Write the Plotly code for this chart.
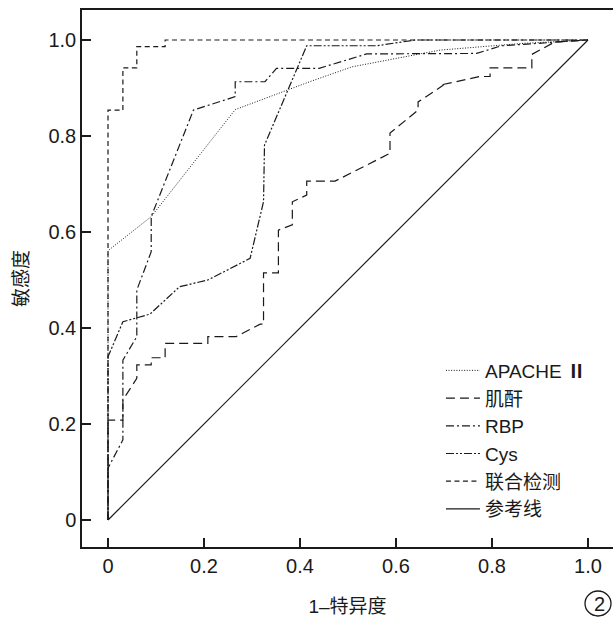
import plotly.graph_objects as go

# ---- data ----
apache_x = [0, 0, 0.09, 0.265, 0.42, 0.508, 0.692, 0.865, 1.0]
apache_y = [0, 0.561, 0.632, 0.855, 0.913, 0.944, 0.979, 0.993, 1.0]

creat_x = [0, 0, 0.031, 0.031, 0.06, 0.06, 0.09, 0.09, 0.119, 0.119, 0.208, 0.208,
           0.267, 0.317, 0.324, 0.324, 0.355, 0.355, 0.384, 0.384, 0.414, 0.414,
           0.473, 0.5875, 0.5875, 0.646, 0.646, 0.699, 0.692, 0.775, 0.796, 0.796,
           0.883, 0.883, 0.931, 1.0]
creat_y = [0, 0.208, 0.208, 0.25, 0.295, 0.323, 0.323, 0.338, 0.338, 0.368, 0.368, 0.382,
           0.382, 0.408, 0.408, 0.515, 0.515, 0.604, 0.615, 0.663, 0.677, 0.706,
           0.706, 0.764, 0.806, 0.854, 0.871, 0.906, 0.906, 0.924, 0.924, 0.942,
           0.942, 0.970, 0.996, 1.0]

rbp_x = [0, 0, 0.031, 0.031, 0.06, 0.06, 0.09, 0.09, 0.178, 0.265, 0.265, 0.327,
         0.351, 0.44, 0.539, 0.768, 0.82, 1.0]
rbp_y = [0, 0.108, 0.167, 0.333, 0.382, 0.479, 0.559, 0.632, 0.854, 0.882, 0.913, 0.913,
         0.941, 0.941, 0.971, 0.972, 0.988, 1.0]

cys_x = [0, 0, 0.031, 0.0875, 0.149, 0.208, 0.296, 0.324, 0.326, 0.414, 0.56, 0.64, 1.0]
cys_y = [0, 0.34, 0.413, 0.429, 0.486, 0.5, 0.545, 0.663, 0.781, 0.988, 0.988, 1.0, 1.0]

comb_x = [0, 0, 0.031, 0.031, 0.06, 0.06, 0.119, 0.119, 1.0]
comb_y = [0, 0.854, 0.854, 0.942, 0.942, 0.986, 0.986, 1.0, 1.0]

ref_x = [0, 1.0]
ref_y = [0, 1.0]

tick_vals = [0, 0.2, 0.4, 0.6, 0.8, 1.0]
tick_text = ["0", "0.2", "0.4", "0.6", "0.8", "1.0"]

names = ["APACHE <b>Ⅱ</b>", "肌酐", "RBP", "Cys", "联合检测", "参考线"]

# ---- figure ----
FONT = "Liberation Sans, Arial, Noto Sans CJK SC, sans-serif"
INK = "#1a1a1a"

series = [
    (apache_x, apache_y, "1px,1.6px", 1.0),
    (creat_x, creat_y, "9px,5px", 1.2),
    (rbp_x, rbp_y, "8px,3px,2px,3px", 1.2),
    (cys_x, cys_y, "8px,2px,2px,2px,2px,2px", 1.2),
    (comb_x, comb_y, "5px,3.5px", 1.2),
    (ref_x, ref_y, "solid", 1.2),
]

fig = go.Figure()
for i, (xs, ys, dash, w) in enumerate(series):
    fig.add_trace(go.Scatter(
        x=xs, y=ys, mode="lines", name=names[i],
        line=dict(color=INK, width=w, dash=dash),
        hoverinfo="skip",
    ))

W, H = 613, 617
L, T, R, B = 82, 10, 0, 70

fig.update_layout(
    width=W, height=H,
    margin=dict(l=L, r=R, t=T, b=B, pad=0, autoexpand=False),
    paper_bgcolor="white", plot_bgcolor="white",
    font=dict(family=FONT, size=20, color=INK),
    showlegend=True,
    legend=dict(
        x=0.676, y=0.364, xanchor="left", yanchor="top",
        bgcolor="rgba(0,0,0,0)", borderwidth=0,
        font=dict(family=FONT, size=19, color=INK),
        itemwidth=34,
    ),
    xaxis=dict(
        range=[-0.0542, 1.0521], showgrid=False, zeroline=False,
        showline=True, linecolor=INK, linewidth=1.5, mirror=True,
        ticks="inside", ticklen=9, tickwidth=1.5, tickcolor=INK,
        tickvals=tick_vals, ticktext=tick_text,
        tickfont=dict(family=FONT, size=20, color=INK),
        title=dict(text="1–特异度", font=dict(family=FONT, size=19, color=INK), standoff=24),
        automargin=False,
    ),
    yaxis=dict(
        range=[-0.05625, 1.0625], showgrid=False, zeroline=False,
        showline=True, linecolor=INK, linewidth=1.5, mirror=False,
        ticks="inside", ticklen=9, tickwidth=1.5, tickcolor=INK,
        tickvals=tick_vals, ticktext=tick_text,
        tickfont=dict(family=FONT, size=20, color=INK),
        title=dict(text="敏感度", font=dict(family=FONT, size=19, color=INK), standoff=15),
        automargin=False,
    ),
)

# circled panel number at lower right
pw, ph = W - L - R, H - T - B
def px_x(p):
    return (p - L) / pw
def px_y(p):
    return (H - B - p) / ph

fig.add_shape(type="circle", xref="paper", yref="paper",
              x0=px_x(585), x1=px_x(611), y0=px_y(616), y1=px_y(591),
              line=dict(color=INK, width=1.3))
fig.add_annotation(text="2", xref="paper", yref="paper",
                   x=px_x(599), y=px_y(604), xanchor="center", yanchor="middle",
                   showarrow=False,
                   font=dict(family=FONT, size=20, color=INK))

fig.write_html("out.html",
               config={"displayModeBar": False},
               post_script="document.body.style.margin='0';document.body.style.overflow='hidden';")
